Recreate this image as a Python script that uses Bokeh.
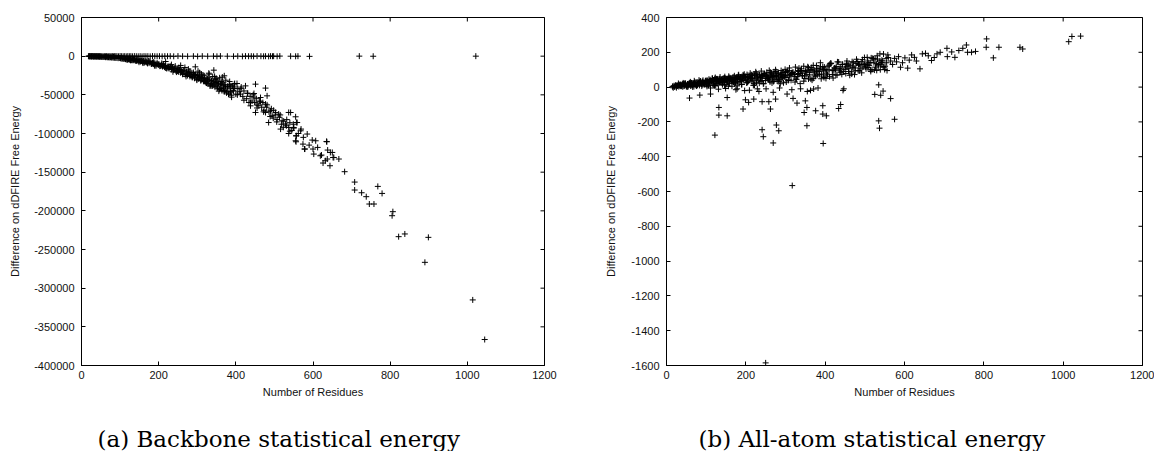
import math
from bokeh.plotting import figure
from bokeh.models import Range1d, FixedTicker, Label
from bokeh.layouts import row, column
from bokeh.embed import file_html
from bokeh.resources import INLINE

# ---------------- ticks ----------------
x_ticks = [0, 200, 400, 600, 800, 1000, 1200]
a_y_ticks = [50000, 0, -50000, -100000, -150000, -200000, -250000, -300000, -350000, -400000]
b_y_ticks = [400, 200, 0, -200, -400, -600, -800, -1000, -1200, -1400, -1600]
captions = ["(a) Backbone statistical energy", "(b) All-atom statistical energy"]

# ---------------- data: (a) backbone statistical energy ----------------
a_zero_x = [
    18, 20, 22, 24, 26, 28, 30, 32, 34, 36,
    38, 40, 42, 44, 46, 48, 50, 53, 56, 59,
    62, 65, 68, 71, 74, 77, 80, 83, 86, 89,
    92, 96, 100, 104, 108, 112, 116, 120, 124, 128,
    132, 137, 142, 147, 152, 157, 162, 167, 172, 178,
    184, 190, 196, 202, 209, 216, 223, 230, 239, 250,
    262, 275, 290, 301, 313, 327, 342, 351, 360, 378,
    394, 405, 417, 425, 433, 440, 446, 455, 465, 472,
    477, 485, 490, 495, 498, 507, 514, 542, 555, 561,
    591, 720, 756, 1022]
a_zero_y = [
    -100, 50, -150, 0, -200, 100, -50, -250, 0, -150,
    50, -100, 0, -200, 100, -50, -150, 0, -250, 50,
    -100, 0, -200, 100, -50, -150, 0, -250, 50, -100,
    0, -200, 100, -50, -150, 0, -250, 50, -100, 0,
    -200, 100, -50, -150, 0, -250, 50, -100, 0, -200,
    100, -50, -150, 0, -250, 50, -100, 0, -200, 100,
    -50, -150, 0, -250, 50, -100, 0, -200, 100, -50,
    -150, 0, -250, 50, -100, 0, -200, 100, -50, -150,
    0, -250, 50, -100, 0, -200, 100, -50, -150, 0,
    -250, 50, -100, 0]

a_curve_x = [
    20, 22, 25, 27, 30, 32, 35, 38, 40, 43,
    46, 48, 51, 53, 56, 59, 62, 64, 67, 70,
    72, 75, 78, 81, 84, 86, 89, 92, 95, 98,
    101, 103, 106, 108, 111, 114, 116, 119, 122, 125,
    127, 130, 133, 136, 139, 141, 144, 147, 150, 153,
    156, 158, 161, 164, 167, 170, 172, 175, 178, 181,
    184, 187, 190, 193, 196, 199, 110, 135, 160, 185,
    201, 204, 207, 210, 212, 215, 218, 221, 224, 227,
    230, 233, 236, 239, 242, 245, 248, 251, 254, 257,
    260, 263, 266, 269, 272, 275, 278, 281, 284, 287,
    290, 293, 296, 299, 218, 257, 295, 225, 250, 280,
    301, 304, 307, 310, 313, 316, 319, 322, 325, 328,
    331, 334, 337, 340, 343, 346, 349, 352, 355, 358,
    361, 364, 367, 370, 373, 376, 379, 382, 385, 388,
    391, 394, 397, 400, 305, 318, 327, 339, 351, 362,
    374, 386, 343, 370, 330, 348, 366, 383, 358, 395,
    403, 425, 451, 447, 477, 464, 481, 434, 438, 455,
    451, 477, 477, 490, 494, 485, 503, 511, 537, 520,
    529, 516, 537, 550, 559, 555, 568, 557, 555, 574,
    578, 585, 598, 607, 600, 619, 635, 638, 650, 654,
    637, 667, 412,
    405, 409, 414, 418, 421, 428, 431, 437, 442, 445,
    449, 453, 458, 461, 467, 470, 473, 480, 486, 492,
    497, 502, 507, 513, 518, 524, 531, 540, 545, 562,
    575, 590, 612,
    542, 557, 550, 537, 556, 556, 569, 579, 602, 622,
    636, 645, 652, 632, 626, 644, 682, 708, 708, 726,
    738, 768, 779, 746, 758, 807, 805, 822, 838, 899,
    890, 1014, 1045]
a_curve_y = [
    -100, -300, -200, -450, -350, -500, -600, -450, -700, -650,
    -800, -900, -750, -1000, -1100, -950, -1300, -1200, -1450, -1350,
    -1600, -1500, -1800, -1700, -2100, -1900, -2300, -2200, -2600, -2400,
    -2600, -3200, -2900, -3500, -3300, -3900, -3400, -4200, -3800, -4600,
    -4100, -5000, -4500, -5400, -4900, -5800, -5200, -6300, -5600, -6900,
    -6000, -7300, -6500, -7800, -7000, -8400, -7500, -9000, -8000, -9600,
    -8600, -10200, -9100, -10900, -9700, -11500, -2800, -4300, -6200, -8300,
    -10500, -12500, -11200, -13400, -11800, -14200, -12600, -15200, -13300, -16000,
    -14000, -17200, -14900, -18000, -15800, -19200, -16500, -20300, -17400, -21500,
    -18300, -22700, -19000, -23800, -20200, -25000, -21000, -26200, -22000, -27500,
    -23100, -28600, -24000, -30000, -6900, -12000, -13800, -14800, -18800, -23500,
    -25000, -29500, -26000, -31000, -27500, -32500, -28500, -34000, -29500, -35500,
    -30500, -37000, -31500, -38500, -33000, -40000, -34000, -41500, -35000, -43000,
    -36500, -44500, -37500, -46000, -39000, -47500, -40000, -49000, -41500, -50500,
    -38400, -44800, -35400, -49100, -27000, -31000, -33000, -36000, -39000, -41000,
    -44000, -46000, -18100, -25400, -22000, -30000, -33500, -36500, -28000, -42000,
    -35400, -38400, -36200, -48300, -41300, -53500, -51300, -59900, -64200, -62000,
    -72800, -62000, -72800, -70700, -77100, -85800, -72800, -74900, -72800, -83600,
    -87800, -94300, -92200, -93000, -85800, -78400, -96500, -103000, -109400, -113700,
    -120100, -100700, -108500, -109400, -120100, -128800, -110300, -121400, -124500, -131000,
    -133000, -133000, -49100,
    -42000, -46000, -40000, -52000, -45000, -55000, -48000, -52000, -58000, -50000,
    -60000, -55000, -64000, -58000, -66000, -60000, -70000, -66000, -72000, -68000,
    -80000, -76000, -82000, -79000, -88000, -84000, -90000, -86000, -96000, -100000,
    -105000, -115000, -118000,
    -72850, -85750, -92200, -100000, -103000, -110700, -94300, -120100, -126600, -127900,
    -110700, -124500, -131000, -135200, -138200, -141700, -149400, -162800, -173100, -176600,
    -181700, -168400, -177500, -191200, -191200, -201100, -206300, -233400, -229900, -234300,
    -266600, -315200, -366400]

# more points spread through the thickness of the dense band
a_fill1_x = [
    118, 124, 131, 137, 143, 149, 156, 162, 168, 174,
    181, 187, 193, 199, 206, 212, 218, 224, 231, 237,
    243, 249, 256, 262, 268, 274, 281, 287, 293, 299,
    306, 312, 318, 324, 331, 337, 343, 349, 356, 362,
    368, 374, 381, 387, 393]
a_fill1_y = [
    -4800, -3900, -5400, -4100, -5900, -7800, -5800, -8600, -7700, -6300,
    -10000, -7800, -12500, -10500, -12600, -10400, -15200, -14000, -13200, -20200,
    -12900, -19100, -17100, -23400, -14600, -22000, -19300, -26800, -23800, -31000,
    -21400, -29100, -25400, -34800, -23300, -32200, -37100, -28600, -45200, -35000,
    -41400, -31100, -49000, -38600, -44700]
a_fill2_x = [
    121, 127, 134, 141, 146, 152, 159, 165, 171, 177,
    183, 189, 196, 203, 208, 214, 221, 227, 233, 240,
    246, 252, 259, 265, 271, 277, 284, 290, 296, 302,
    309, 315, 321, 327, 333, 340, 346, 352, 359, 365,
    371, 377, 384, 389, 396]
a_fill2_y = [
    -4100, -5400, -4200, -6000, -4400, -6100, -8900, -6800, -9400, -7000,
    -9900, -12300, -9200, -12900, -9300, -12500, -16000, -13200, -10900, -16600,
    -20600, -14900, -20100, -18800, -26200, -16800, -25400, -21100, -24800, -19400,
    -31600, -24300, -31800, -29600, -38500, -26400, -35100, -32300, -41900, -27100,
    -37200, -45300, -32800, -53000, -39900]
a_fill3_x = [
    302, 311, 319, 328, 336, 345, 353, 362, 370, 379,
    387, 396, 404, 413, 421, 430, 438, 447, 455, 464,
    472, 481, 489, 498, 506, 515, 523, 532, 540, 549]
a_fill3_y = [
    -27000, -23200, -32600, -28000, -38400, -26200, -37400, -32800, -45200, -38800,
    -46400, -36100, -50000, -42000, -57000, -48000, -60000, -53000, -67000, -59000,
    -72000, -63000, -78000, -70000, -85000, -76000, -92000, -82000, -97000, -88000]

# ---------------- data: (b) all-atom statistical energy ----------------
b_band_x = [
    15, 17, 19, 21, 23, 25, 27, 29, 31, 33,
    35, 37, 39, 41, 43, 45, 47, 49, 51, 53,
    55, 57, 59, 61, 63, 65, 67, 69, 71, 73,
    75, 77, 79, 81, 83, 85, 87, 89, 91, 93,
    95, 97, 99,
    16, 20, 24, 28, 32, 36, 40, 44, 48, 52,
    56, 60, 64, 68, 72, 76, 80, 84, 88, 92,
    96, 100,
    101, 103, 105, 107, 109, 111, 113, 115, 117, 119,
    121, 123, 125, 127, 129, 131, 133, 135, 137, 139,
    141, 143, 145, 147, 149, 151, 153, 155, 157, 159,
    161, 163, 165, 167, 169, 171, 173, 175, 177, 179,
    181, 183, 185, 187, 189, 191, 193, 195, 197, 199,
    102, 106, 110, 114, 118, 122, 126, 130, 134, 138,
    142, 146, 150, 154, 158, 162, 166, 170, 174, 178,
    182, 186, 190, 194, 198,
    201, 203, 205, 207, 209, 211, 213, 215, 217, 219,
    221, 223, 225, 227, 229, 231, 233, 235, 237, 239,
    241, 243, 245, 247, 249, 251, 253, 255, 257, 259,
    261, 263, 265, 267, 269, 271, 273, 275, 277, 279,
    281, 283, 285, 287, 289, 291, 293, 295, 297, 299,
    204, 210, 216, 222, 228, 234, 240, 246, 252, 258,
    264, 270, 276, 282, 288, 294, 300,
    301, 304, 307, 310, 313, 316, 319, 322, 325, 328,
    331, 334, 337, 340, 343, 346, 349, 352, 355, 358,
    361, 364, 367, 370, 373, 376, 379, 382, 385, 388,
    391, 394, 397, 400,
    306, 315, 324, 333, 342, 351, 360, 369, 378, 387, 396,
    403, 407, 411, 415, 419, 423, 427, 431, 435, 439,
    443, 447, 451, 455, 459, 463, 467, 471, 475, 479,
    483, 487, 491, 495, 499, 503, 507, 511, 515, 519,
    523, 527, 531, 535, 539, 543, 547, 551, 555, 559,
    410, 425, 440, 455, 470, 485, 500, 515, 530, 545,
    506, 538, 558, 556, 590, 601, 608, 625, 639, 645,
    653, 668, 682, 707, 708, 719, 727, 737, 747, 756,
    759, 769, 779, 806, 807, 824, 838, 891, 898, 1014,
    1022, 1044,
    565, 570, 575, 580, 585, 595, 612, 618, 630, 660, 675, 690]
b_band_y = [
    2, -4, 8, 1, 10, -3, 6, 12, 3, 9,
    15, 5, 13, 2, 17, 8, 20, 11, 4, 18,
    9, 22, 14, 6, 24, 12, 19, 3, 26, 15,
    8, 28, 17, 22, 10, 30, 19, 6, 32, 24,
    13, 27, 35,
    5, 3, 11, 7, 14, 10, 18, 6, 21, 13,
    16, 25, 10, 20, 28, 14, 24, 32, 18, 27,
    22, 38,
    20, 38, 12, 45, 28, -5, 33, 50, 18, 40,
    8, 55, 30, 22, 47, -12, 36, 58, 25, 42,
    14, 51, 32, 60, -8, 38, 27, 48, 62, 20,
    44, 35, 5, 56, 29, 65, 41, -15, 50, 33,
    68, 24, 46, 58, 15, 52, 70, 38, -20, 60,
    30, 25, 42, 35, 28, 45, 38, 33, 48, 40,
    30, 52, 44, 37, 55, 47, 40, 58, 50, 43,
    61, 53, 46, 63, 55,
    45, 72, 30, 58, -18, 80, 52, 35, 66, 10,
    75, 48, 88, 28, 62, 40, -25, 70, 55, 92,
    38, 65, 20, 78, 50, -10, 85, 60, 42, 96,
    30, 68, 74, 52, -30, 88, 45, 100, 62, 35,
    80, 58, -5, 70, 95, 48, 84, 25, 66, 102,
    55, 62, 48, 66, 57, 70, 60, 74, 64, 52,
    77, 68, 58, 80, 72, 62, 84,
    55, 90, 38, 110, 72, -15, 85, 60, 115, 45,
    95, 78, 20, 105, 65, 120, 50, 88, -25, 112,
    70, 98, 40, 125, 82, 62, 108, -5, 92, 140,
    75, 118, 55, 100,
    70, 82, 75, 90, 80, 95, 85, 100, 92, 105, 98,
    80, 120, 60, 135, 95, 110, 70, 145, 105, 85,
    130, -10, 115, 150, 90, 125, 75, 140, 110, 160,
    95, 130, 145, 115, 170, 105, 150, 125, 90, 165,
    140, 115, 180, 130, 100, 155, 190, 120, 140, 170,
    100, 110, 105, 120, 115, 125, 130, 140, 135, 150,
    171, 191, 185, 95, 114, 168, 109, 171, 105, 191,
    194, 153, 191, 223, 175, 202, 171, 210, 223, 242,
    200, 200, 205, 229, 277, 168, 229, 229, 219, 261,
    291, 293,
    150, 130, 165, 145, 175, 140, 155, 185, 150, 180, 170, 200]

b_fill1_x = [
    30, 38, 46, 54, 62, 70, 78, 86, 94, 102,
    110, 118, 126, 134, 142, 150, 158, 166, 174, 182,
    190, 198, 206, 214, 222, 230, 238, 246, 254, 262,
    270, 278, 286, 294, 302, 310, 318, 326, 334, 342,
    350, 358, 366, 374, 382, 390, 398, 406, 414, 422,
    430, 438, 446, 454, 462, 470, 478, 486, 494, 502,
    510, 518, 526, 534, 542, 550]
b_fill1_y = [
    21, 8, 20, 2, 19, 36, 11, 35, 21, 4,
    34, 10, 47, 25, 38, 16, 49, 36, 25, 71,
    15, 54, 35, 71, 12, 53, 33, 71, 51, 85,
    32, 66, 45, 84, 29, 65, 83, 46, 109, 66,
    88, 47, 112, 70, 91, 48, 115, 71, 138, 94,
    69, 116, 90, 137, 68, 115, 135, 93, 158, 116,
    140, 100, 162, 122, 141, 101]
b_fill2_x = [
    34, 42, 50, 58, 66, 74, 82, 90, 98, 106,
    114, 122, 130, 138, 146, 154, 162, 170, 178, 186,
    194, 202, 210, 218, 226, 234, 242, 250, 258, 266,
    274, 282, 290, 298, 306, 314, 322, 330, 338, 346,
    354, 362, 370, 378, 386, 394, 402, 410, 418, 426,
    434, 442, 450, 458, 466, 474, 482, 490, 498, 506,
    514, 522, 530, 538, 546, 554]
b_fill2_y = [
    11, 24, 5, 22, 1, 16, 40, 14, 36, 10,
    32, 49, 17, 43, 11, 31, 53, 28, 7, 43,
    66, 24, 52, 40, 81, 22, 66, 38, 55, 24,
    81, 41, 73, 59, 95, 39, 73, 60, 95, 34,
    71, 100, 50, 124, 72, 102, 50, 126, 72, 103,
    144, 73, 102, 131, 88, 72, 147, 105, 134, 128,
    99, 163, 96, 151, 118, 165]
b_fill3_x = [
    36, 44, 52, 60, 68, 76, 84, 92, 100, 108,
    116, 124, 132, 140, 148, 156, 164, 172, 180, 188,
    196, 204, 212, 220, 228, 236, 244, 252, 260, 268,
    276, 284, 292, 300, 308, 316, 324, 332, 340, 348,
    356, 364, 372, 380, 388, 396, 404, 412, 420, 428,
    436, 444, 452, 460, 468, 476, 484, 492, 500, 508,
    516, 524, 532, 540, 548]
b_fill3_y = [
    6, 20, 1, 30, 17, 6, 26, 39, 13, 26,
    50, 9, 38, 24, 51, 5, 39, 18, 55, 33,
    74, 27, 53, 20, 74, 47, 19, 69, 41, 61,
    90, 33, 55, 87, 42, 78, 29, 72, 94, 64,
    117, 46, 92, 68, 116, 63, 93, 133, 52, 119,
    94, 131, 78, 108, 146, 94, 132, 82, 128, 113,
    168, 98, 161, 129, 114]

b_low_x = [
    58, 84, 111, 132, 132, 153, 122, 153, 193, 199,
    207, 220, 241, 241, 244, 269, 277, 283, 262, 258,
    275, 304, 319, 329, 350, 354, 354, 347, 376, 394,
    394, 403, 395, 371, 317, 250, 434, 439, 445, 535,
    525, 540, 546, 565, 535, 537, 575, 178, 229, 338,
    363, 287]
b_low_y = [
    -63, -46, -40, -117, -161, -165, -276, -60, -126, -73,
    -88, -69, -84, -245, -285, -321, -218, -251, -126, -84,
    -69, -40, -65, -92, -79, -117, -222, -146, -136, -107,
    -155, -165, -324, -11, -566, -1585, -123, -100, -19, 13,
    -42, -47, -23, -66, -194, -236, -185, -10, -10, -10,
    -19, 19]

FONT = "Liberation Sans"
PLOT_H = 410
CAP_H = 41


def make_panel(width, y_lo, y_hi, y_ticks, border_left, border_right, ylab_standoff):
    p = figure(width=width, height=PLOT_H, title=None,
               x_range=Range1d(0, 1200), y_range=Range1d(y_lo, y_hi),
               output_backend="svg", toolbar_location=None,
               min_border_left=border_left, min_border_right=border_right,
               min_border_top=17, min_border_bottom=45,
               background_fill_color="white", border_fill_color="white",
               outline_line_color="black", outline_line_width=1)
    p.grid.visible = False

    xa = p.xaxis[0]
    xa.ticker = FixedTicker(ticks=x_ticks)
    xa.major_label_overrides = {t: str(t) for t in x_ticks}
    xa.axis_label = "Number of Residues"
    xa.axis_label_standoff = 4
    xa.major_label_standoff = 5

    ya = p.yaxis[0]
    ya.ticker = FixedTicker(ticks=y_ticks)
    ya.major_label_overrides = {t: str(t) for t in y_ticks}
    ya.axis_label = "Difference on dDFIRE Free Energy"
    ya.axis_label_standoff = ylab_standoff
    ya.major_label_standoff = 7

    for ax in (xa, ya):
        ax.major_tick_in = 4
        ax.major_tick_out = 0
        ax.minor_tick_line_color = None
        ax.axis_line_color = "black"
        ax.major_tick_line_color = "black"
        ax.major_label_text_font = FONT
        ax.major_label_text_font_size = "11px"
        ax.major_label_text_color = "#111111"
        ax.axis_label_text_font = FONT
        ax.axis_label_text_font_size = "11px"
        ax.axis_label_text_font_style = "normal"
        ax.axis_label_text_color = "#111111"

    # mirrored inward ticks on the top and right frame edges (half clipped by the frame)
    p.scatter(x_ticks, [y_hi] * len(x_ticks), marker="dash", angle=math.pi / 2,
              size=8, line_color="black", line_width=1)
    p.scatter([1200] * len(y_ticks), y_ticks, marker="dash",
              size=8, line_color="black", line_width=1)
    return p


def plus(p, xs, ys):
    p.scatter(xs, ys, marker="cross", size=6, line_color="black", line_width=1)


pa = make_panel(600, -400000, 50000, a_y_ticks, 81, 56, 10)
plus(pa, a_zero_x, a_zero_y)
plus(pa, a_curve_x, a_curve_y)
plus(pa, a_fill1_x, a_fill1_y)
plus(pa, a_fill2_x, a_fill2_y)
plus(pa, a_fill3_x, a_fill3_y)

pb = make_panel(554, -1600, 400, b_y_ticks, 66, 12, 11)
plus(pb, b_band_x, b_band_y)
plus(pb, b_fill1_x, b_fill1_y)
plus(pb, b_fill2_x, b_fill2_y)
plus(pb, b_fill3_x, b_fill3_y)
plus(pb, b_low_x, b_low_y)

# caption strip below the two panels (pixel coordinates of the strip)
cap = figure(width=1154, height=CAP_H, title=None,
             x_range=Range1d(0, 1154), y_range=Range1d(0, CAP_H),
             output_backend="svg", toolbar_location=None,
             x_axis_type=None, y_axis_type=None,
             min_border=0, outline_line_color=None,
             background_fill_color="white", border_fill_color="white")
cap.grid.visible = False
for txt, xpos in zip(captions, [97, 698]):
    cap.add_layout(Label(text=txt, x=xpos, y=13, text_font="DejaVu Serif",
                         text_font_size="23px", text_baseline="middle",
                         text_align="left", text_color="black"))

layout = column(row(pa, pb, spacing=0), cap, spacing=0)
open("out.html", "w").write(file_html(layout, INLINE))
